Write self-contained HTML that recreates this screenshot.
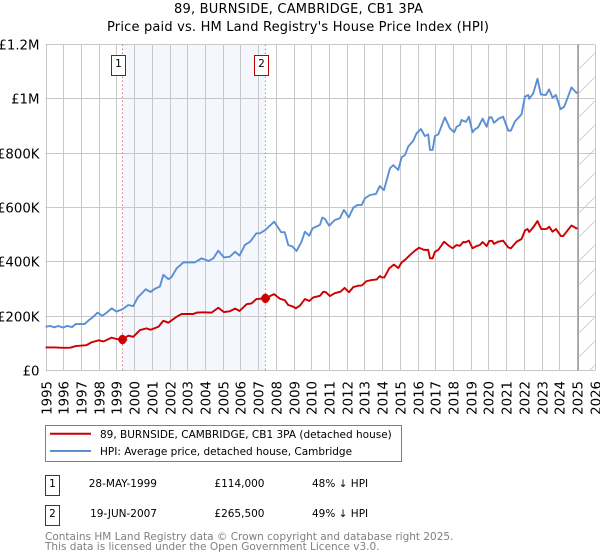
<!DOCTYPE html>
<html>
<head>
<meta charset="utf-8">
<style>
html,body{margin:0;padding:0;background:#fff;}
body{width:600px;height:560px;overflow:hidden;position:relative;}
svg{position:absolute;left:0;top:0;}
text{font-family:"DejaVu Sans",sans-serif;fill:#000;}
</style>
</head>
<body>
<svg id="chart" width="600" height="560" viewBox="0 0 600 560" xmlns="http://www.w3.org/2000/svg">
  <defs>
    <pattern id="hatch" patternUnits="userSpaceOnUse" width="24" height="24">
      <path d="M-6 6L6 -6M0 24L24 0M18 30L30 18" stroke="#d0d0d0" stroke-width="1" fill="none"/>
    </pattern>
  </defs>
  <text x="298.5" y="13" text-anchor="middle" font-size="13" textLength="249" lengthAdjust="spacing" fill="#111">89, BURNSIDE, CAMBRIDGE, CB1 3PA</text>
  <text x="298" y="31" text-anchor="middle" font-size="13" textLength="382" lengthAdjust="spacing">Price paid vs. HM Land Registry's House Price Index (HPI)</text>
  <g id="plot"></g>

  <g>
    <rect x="45.5" y="425.5" width="356" height="36" fill="#fff" stroke="#808080" stroke-width="1"/>
    <line x1="50" y1="433.7" x2="91" y2="433.7" stroke="#cc0000" stroke-width="2"/>
    <text x="100" y="438" font-size="10.5">89, BURNSIDE, CAMBRIDGE, CB1 3PA (detached house)</text>
    <line x1="50" y1="451" x2="91" y2="451" stroke="#5b8fd4" stroke-width="2"/>
    <text x="100" y="455" font-size="10.5">HPI: Average price, detached house, Cambridge</text>
  </g>

  <g>
    <rect x="45.5" y="475.5" width="14" height="20" fill="#fff" stroke="#c00000" stroke-width="1"/>
    <text x="52.5" y="487" text-anchor="middle" font-size="10.5">1</text>
    <text x="157" y="487" text-anchor="end" font-size="10.5">28-MAY-1999</text>
    <text x="264.5" y="487" text-anchor="end" font-size="10.5">£114,000</text>
    <text x="312" y="487" font-size="10.5">48% ↓ HPI</text>
  </g>
  <g>
    <rect x="45.5" y="505.5" width="14" height="20" fill="#fff" stroke="#c00000" stroke-width="1"/>
    <text x="52.5" y="517" text-anchor="middle" font-size="10.5">2</text>
    <text x="157" y="517" text-anchor="end" font-size="10.5">19-JUN-2007</text>
    <text x="264.5" y="517" text-anchor="end" font-size="10.5">£265,500</text>
    <text x="312" y="517" font-size="10.5">49% ↓ HPI</text>
  </g>
  <text x="45" y="540" font-size="10.5" style="fill:#808080">Contains HM Land Registry data © Crown copyright and database right 2025.</text>
  <text x="45" y="550" font-size="10.5" style="fill:#808080">This data is licensed under the Open Government Licence v3.0.</text>
</svg>
<script>
var yearTicks = [1995,1996,1997,1998,1999,2000,2001,2002,2003,2004,2005,2006,2007,2008,2009,2010,2011,2012,2013,2014,2015,2016,2017,2018,2019,2020,2021,2022,2023,2024,2025,2026];
var valueTicks = [0,200,400,600,800,1000,1200];
var valueTickLabels = ['£0','£200K','£400K','£600K','£800K','£1M','£1.2M'];

var hpiDates = [1995.0,1995.25,1995.5,1995.7,1996.0,1996.2,1996.5,1996.7,1996.95,1997.2,1997.4,1997.7,1997.93,1998.2,1998.45,1998.73,1999.0,1999.33,1999.67,1999.95,2000.2,2000.43,2000.65,2000.93,2001.17,2001.45,2001.65,2001.93,2002.1,2002.4,2002.78,2003.15,2003.43,2003.8,2004.2,2004.47,2004.75,2005.07,2005.4,2005.7,2005.95,2006.25,2006.55,2006.9,2007.1,2007.4,2007.9,2008.3,2008.5,2008.7,2008.94,2009.17,2009.45,2009.64,2009.88,2010.07,2010.49,2010.62,2010.77,2011.01,2011.33,2011.61,2011.84,2012.12,2012.37,2012.6,2012.84,2013.03,2013.31,2013.65,2013.87,2014.0,2014.1,2014.44,2014.63,2014.91,2015.1,2015.29,2015.47,2015.76,2015.94,2016.19,2016.41,2016.6,2016.7,2016.85,2016.98,2017.17,2017.54,2017.83,2018.07,2018.2,2018.39,2018.48,2018.73,2018.9,2019.1,2019.24,2019.42,2019.67,2019.9,2020.05,2020.18,2020.31,2020.61,2020.83,2021.12,2021.27,2021.49,2021.87,2022.06,2022.25,2022.3,2022.53,2022.77,2022.96,2023.24,2023.43,2023.62,2023.81,2024.07,2024.28,2024.69,2024.97,2025.03];
var hpiValues = [161,164,159,164,158,164,160,171,171,171,183,198,213,201,213,229,217,225,241,237,269,284,299,289,301,309,352,336,343,376,398,398,398,413,403,413,441,416,419,437,423,462,474,505,505,517,548,509,509,462,456,440,474,511,496,523,536,563,558,533,554,560,591,564,599,609,609,634,646,650,679,670,664,744,756,738,785,793,824,846,873,889,863,869,812,812,863,869,932,891,877,897,904,922,915,934,877,888,895,927,897,932,932,912,928,934,883,883,916,943,1008,1014,1000,1020,1074,1016,1014,1035,1004,1014,962,971,1042,1022,1025];

var priceDates = [1995.0,1995.5,1996.0,1996.4,1996.7,1997.3,1997.6,1998.0,1998.27,1998.73,1999.0,1999.33,1999.67,1999.95,2000.33,2000.7,2000.93,2001.37,2001.65,2001.93,2002.4,2002.68,2003.34,2003.53,2003.9,2004.37,2004.75,2005.07,2005.4,2005.7,2005.95,2006.35,2006.63,2006.9,2007.4,2007.9,2008.23,2008.5,2008.7,2008.98,2009.13,2009.36,2009.64,2009.89,2010.11,2010.49,2010.68,2010.83,2011.05,2011.34,2011.65,2011.88,2012.13,2012.37,2012.65,2012.86,2013.12,2013.4,2013.69,2013.87,2013.97,2014.12,2014.4,2014.66,2014.91,2015.1,2015.29,2015.57,2015.85,2016.08,2016.36,2016.6,2016.7,2016.85,2016.98,2017.17,2017.5,2017.77,2017.98,2018.2,2018.39,2018.58,2018.71,2018.9,2019.1,2019.33,2019.52,2019.67,2019.9,2020.05,2020.22,2020.31,2020.55,2020.83,2021.12,2021.27,2021.59,2021.87,2022.06,2022.21,2022.3,2022.53,2022.77,2022.99,2023.28,2023.43,2023.62,2023.81,2024.09,2024.22,2024.69,2024.97,2025.03];
var priceValues = [85,85,83.5,84,90,93,104,111,107,121,116,114,128,124,149,155,150,161,183,176,198,208,208,213,214,213,231,215,218,228,219,244,247,263,265.5,281,264,259,241,235,229,239,263,256,269,275,290,288,274,285,290,304,288,307,312,313,329,333,335,348,343,342,376,390,377,398,407,425,441,452,444,444,413,413,437,444,474,459,450,462,459,473,472,478,450,458,462,473,458,477,477,466,474,478,453,450,474,484,515,521,510,527,550,520,521,529,511,521,495,495,534,523,524];

var saleDates = [1999.34,2007.41];
var saleValues = [114,265.5];
var saleLabels = ['1','2'];
var dataEndDate = 2025.07;

var NS = 'http://www.w3.org/2000/svg';
var plot = document.getElementById('plot');
var L = 45.6, R = 594.7, B = 370.5, T = 44.5;
function xScale(year) { return L + (year - 1995) / 31 * (R - L); }
function yScale(v) { return B - v / 1200 * (B - T); }
function make(tag, attrs, parent) {
  var el = document.createElementNS(NS, tag);
  for (var k in attrs) { el.setAttribute(k, attrs[k]); }
  (parent || plot).appendChild(el);
  return el;
}
function pathFrom(dates, values) {
  var d = '';
  for (var i = 0; i < dates.length; i++) {
    d += (i ? 'L' : 'M') + xScale(dates[i]).toFixed(2) + ' ' + yScale(values[i]).toFixed(2);
  }
  return d;
}

var band = make('rect', {x: xScale(saleDates[0]), y: T, width: xScale(saleDates[1]) - xScale(saleDates[0]), height: B - T, fill: '#f4f7fe'});



var hatch = make('rect', {x: xScale(dataEndDate), y: T, width: R - xScale(dataEndDate), height: B - T, fill: 'url(#hatch)'});



yearTicks.forEach(function (yr) {
  var px = Math.round(xScale(yr)) + 0.5;
  var g = make('line', {x1: px, x2: px, y1: T, y2: B, stroke: '#c8c8c8', 'stroke-width': 1});
  
  
  var t = make('text', {x: 0, y: 0, 'font-size': 13.3, 'text-anchor': 'end', transform: 'translate(' + (px + 4.8) + ' 381) rotate(-90)'});
  t.textContent = yr;
  
  
});
valueTicks.forEach(function (v, i) {
  var py = Math.round(yScale(v) - 0.5) + 0.5;
  var g = make('line', {x1: L, x2: R, y1: py, y2: py, stroke: '#c8c8c8', 'stroke-width': 1});
  
  
  var t = make('text', {x: 39.5, y: py + 5, 'font-size': 13.3, 'text-anchor': 'end'});
  t.textContent = valueTickLabels[i];
  
  
});

var endLine = make('line', {x1: xScale(dataEndDate), x2: xScale(dataEndDate), y1: T, y2: B, stroke: '#a0a0a0', 'stroke-width': 1.5});



saleDates.forEach(function (d, i) {
  var line = make('line', {x1: xScale(d), x2: xScale(d), y1: T, y2: B, stroke: '#ff6b78', 'stroke-width': 1, 'stroke-dasharray': '1.5 2.5'});
  
  
});

var hpiLine = make('path', {d: pathFrom(hpiDates, hpiValues), fill: 'none', stroke: '#5b8fd4', 'stroke-width': 1.9, 'stroke-linejoin': 'round'});



var priceLine = make('path', {d: pathFrom(priceDates, priceValues), fill: 'none', stroke: '#cc0000', 'stroke-width': 1.9, 'stroke-linejoin': 'round'});



saleDates.forEach(function (d, i) {
  var cx = xScale(d), cy = yScale(saleValues[i]);
  var dot = make('path', {d: 'M' + (cx - 5) + ' ' + cy + 'L' + (cx - 2.5) + ' ' + (cy - 3.8) + 'L' + cx + ' ' + (cy - 5) + 'L' + (cx + 2.5) + ' ' + (cy - 3.8) + 'L' + (cx + 5) + ' ' + cy + 'L' + (cx + 2.5) + ' ' + (cy + 3.8) + 'L' + cx + ' ' + (cy + 5) + 'L' + (cx - 2.5) + ' ' + (cy + 3.8) + 'Z', fill: '#cc0000'});
  
  
  var bx = Math.round(cx) - 10.5;
  var box = make('rect', {x: bx, y: 55.5, width: 14, height: 20, fill: '#fff', stroke: '#c00000', 'stroke-width': 1});
  
  
  var lab = make('text', {x: bx + 7, y: 67, 'font-size': 10.5, 'text-anchor': 'middle'});
  lab.textContent = saleLabels[i];
  
  
});
</script>
</body>
</html>
